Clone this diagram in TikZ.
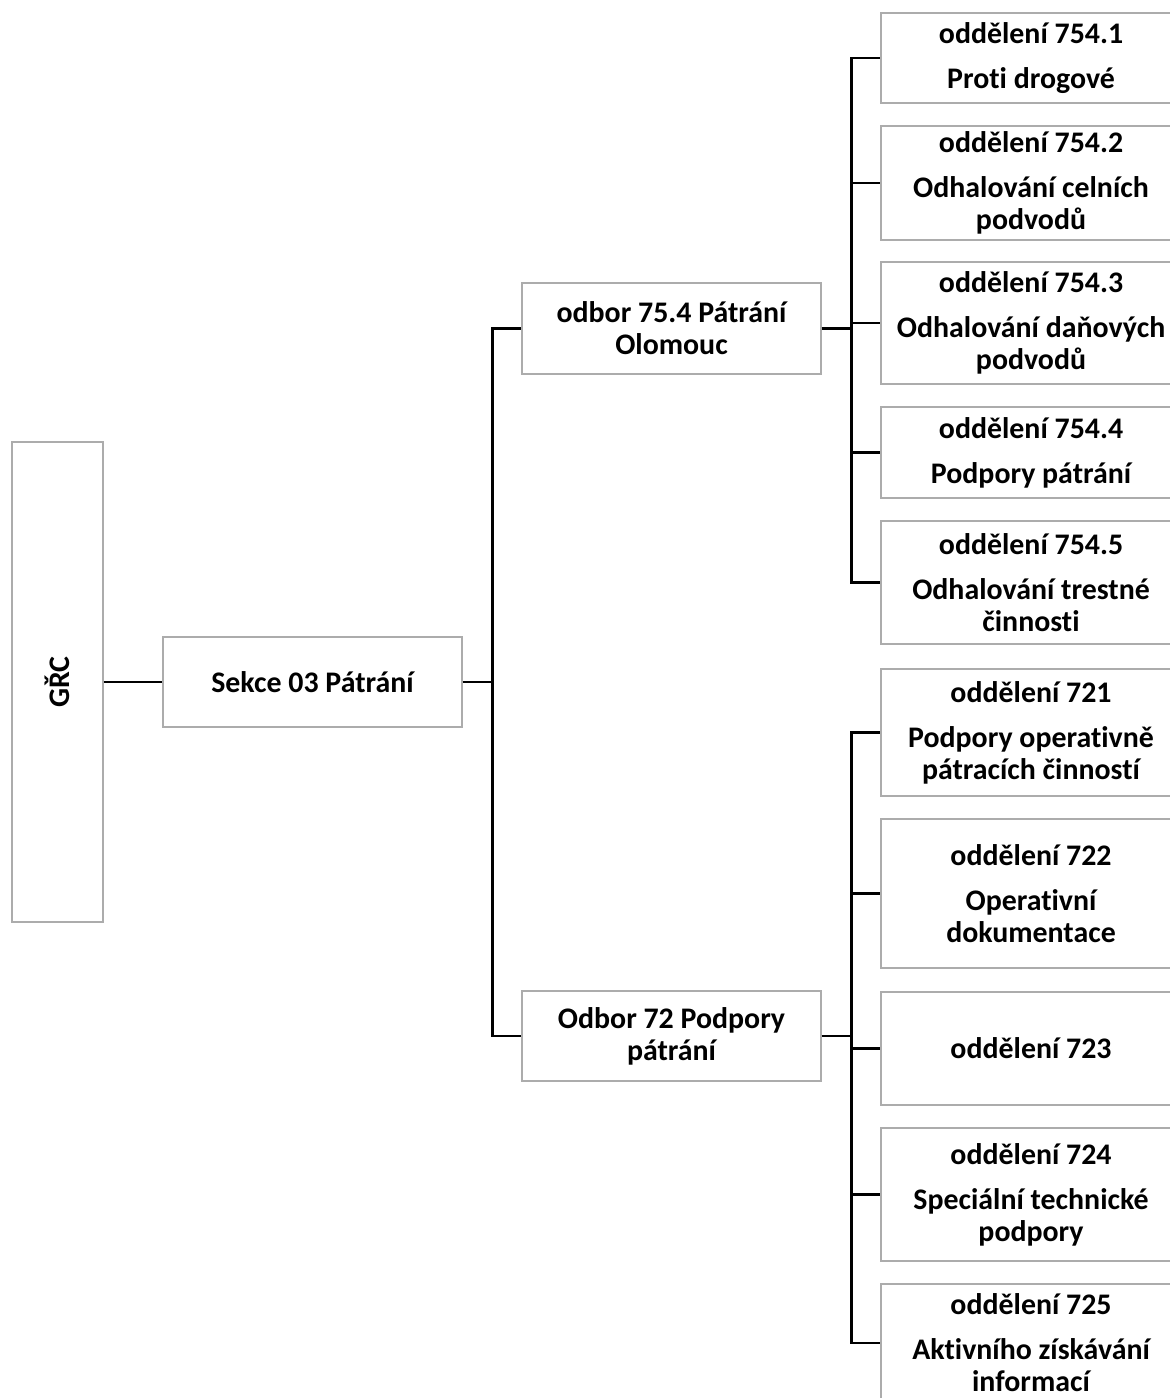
\documentclass[tikz,border=0pt]{standalone}
\usepackage{fontspec}
\setmainfont{Carlito}[Ligatures={NoCommon}]
\newlength\pix
\setlength\pix{0.02cm}
\newcommand\unitlabel[2]{odd\v{e}len\'{\i} #1\\[7.4pt]#2}

\begin{document}
\begin{tikzpicture}[x=0.02cm, y=-0.02cm]
\tikzstyle{box}=[draw=gray!65, line width=0.6pt, fill=white, align=center, inner sep=0pt,
  font=\fontsize{17}{18.2}\selectfont\bfseries]
\tikzstyle{unitbox}=[box, minimum width=300\pix]
\tikzstyle{link}=[black, line width=1.4pt]
\useasboundingbox (0,0) rectangle (1169,1398);
% top levels
\node [box, minimum width=91\pix, minimum height=480\pix] (grc) at (57.5,682) {\rotatebox{90}{GŘC}};
\node [box, minimum width=299\pix, minimum height=90\pix] (sekce) at (312.5,682) {Sekce 03 Pátrání};
\node [box, minimum width=299\pix, minimum height=91\pix] (o754) at (671.5,328.5) {odbor 75.4 Pátrání\\Olomouc};
\node [box, minimum width=299\pix, minimum height=90\pix] (o72) at (671.5,1036) {Odbor 72 Podpory\\pátrání};
% departments 754.x
\node [unitbox, minimum height=90\pix] (u7541) at (1031,58) {\unitlabel{754.1}{Proti drogové}};
\node [unitbox, minimum height=114\pix] (u7542) at (1031,183) {\unitlabel{754.2}{Odhalování celních\\podvodů}};
\node [unitbox, minimum height=122\pix] (u7543) at (1031,323) {\unitlabel{754.3}{Odhalování daňových\\podvodů}};
\node [unitbox, minimum height=91\pix] (u7544) at (1031,452.5) {\unitlabel{754.4}{Podpory pátrání}};
\node [unitbox, minimum height=123\pix] (u7545) at (1031,582.5) {\unitlabel{754.5}{Odhalování trestné\\činnosti}};
% departments 72x
\node [unitbox, minimum height=127\pix] (u721) at (1031,732.5) {\unitlabel{721}{Podpory operativně\\pátracích činností}};
\node [unitbox, minimum height=149\pix] (u722) at (1031,893.5) {\unitlabel{722}{Operativní\\dokumentace}};
\node [unitbox, minimum height=113\pix] (u723) at (1031,1048.5) {oddělení 723};
\node [unitbox, minimum height=133\pix] (u724) at (1031,1194.5) {\unitlabel{724}{Speciální technické\\podpory}};
\node [unitbox, minimum height=118\pix] (u725) at (1031,1343) {\unitlabel{725}{Aktivního získávání\\informací}};
% connectors
\draw [link] (grc) -- (sekce);
\draw [link] (sekce.east) -- ++(30,0) coordinate (s1);
\draw [link] (s1) |- (o754.west);
\draw [link] (s1) |- (o72.west);
\draw [link] (o754.east) -- ++(30,0) coordinate (s2);
\foreach \n in {u7541,u7542,u7543,u7544,u7545}
  \draw [link] (s2) |- (\n.west);
\draw [link] (o72.east) -- ++(30,0) coordinate (s3);
\foreach \n in {u721,u722,u723,u724,u725}
  \draw [link] (s3) |- (\n.west);
\end{tikzpicture}
\end{document}
